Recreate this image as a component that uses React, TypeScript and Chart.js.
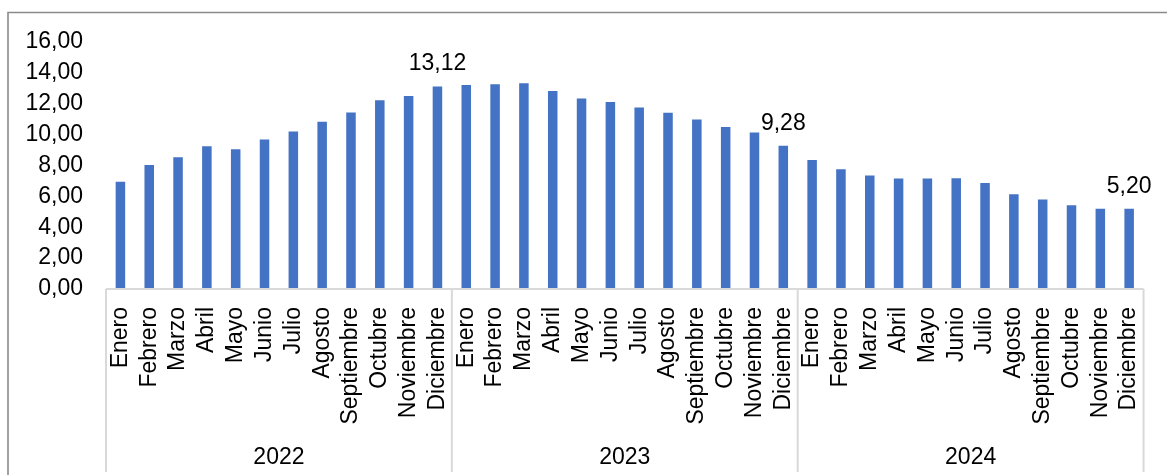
import React, { useEffect, useRef } from 'react';
import { Chart, registerables } from 'chart.js';

Chart.register(...registerables);

const months = ['Enero', 'Febrero', 'Marzo', 'Abril', 'Mayo', 'Junio', 'Julio', 'Agosto', 'Septiembre', 'Octubre', 'Noviembre', 'Diciembre'];
const years = ['2022', '2023', '2024'];
const values2022 = [6.94, 8.03, 8.54, 9.24, 9.06, 9.69, 10.21, 10.83, 11.44, 12.23, 12.51, 13.12];
const values2023 = [13.22, 13.27, 13.33, 12.82, 12.34, 12.12, 11.76, 11.41, 10.98, 10.49, 10.14, 9.28];
const values2024 = [8.35, 7.75, 7.36, 7.16, 7.16, 7.18, 6.86, 6.13, 5.8, 5.42, 5.2, 5.2];
const labelledMonths = ['Diciembre'];
const yMin = 0;
const yMax = 16;
const yStep = 2;

const FONT = "'Liberation Sans', Arial, sans-serif";
const fmt = (v: number) => v.toFixed(2).replace('.', ',');

export default function App() {
  const ref = useRef<HTMLCanvasElement | null>(null);

  useEffect(() => {
    const canvas = ref.current;
    if (!canvas) return;
    const labels: string[] = [];
    years.forEach(() => months.forEach((m) => labels.push(m)));
    const values = [...values2022, ...values2023, ...values2024];

    const overlay = {
      id: 'overlay',
      afterDraw(chart: any) {
        const ctx = chart.ctx as CanvasRenderingContext2D;
        const area = chart.chartArea;
        const xs = chart.scales.x;
        const n = labels.length;
        const boundary = (i: number) => {
          if (i <= 0) return area.left;
          if (i >= n) return area.right;
          return (xs.getPixelForTick(i - 1) + xs.getPixelForTick(i)) / 2;
        };
        ctx.save();
        // outer frame
        ctx.strokeStyle = '#8a8a8a';
        ctx.lineWidth = 1.6;
        ctx.beginPath();
        ctx.moveTo(8, 475);
        ctx.lineTo(8, 12.5);
        ctx.lineTo(1167, 12.5);
        ctx.stroke();
        // axis line
        ctx.strokeStyle = '#d9d9d9';
        ctx.lineWidth = 2;
        ctx.beginPath();
        ctx.moveTo(area.left, area.bottom);
        ctx.lineTo(area.right, area.bottom);
        ctx.stroke();
        // group separators and year labels
        ctx.fillStyle = '#000';
        ctx.font = `23px ${FONT}`;
        ctx.textAlign = 'center';
        ctx.textBaseline = 'middle';
        for (let g = 0; g <= years.length; g++) {
          const x = boundary(g * months.length);
          ctx.beginPath();
          ctx.moveTo(x, area.bottom);
          ctx.lineTo(x, 472);
          ctx.stroke();
          if (g < years.length) {
            const x2 = boundary((g + 1) * months.length);
            ctx.fillText(years[g], (x + x2) / 2, 458);
          }
        }
        // data labels
        const meta = chart.getDatasetMeta(0);
        ctx.textBaseline = 'alphabetic';
        meta.data.forEach((bar: any, i: number) => {
          if (labelledMonths.includes(labels[i])) {
            ctx.fillText(fmt(values[i]), bar.x, bar.y - 16);
          }
        });
        ctx.restore();
      },
    };

    const chart = new Chart(canvas, {
      type: 'bar',
      data: {
        labels,
        datasets: [
          {
            data: values,
            backgroundColor: '#4472C4',
            borderWidth: 0,
            categoryPercentage: 1,
            barPercentage: 0.33,
          },
        ],
      },
      options: {
        responsive: false,
        animation: false,
        layout: { padding: { top: 42, right: 18, left: 0, bottom: 0 } },
        plugins: { legend: { display: false }, tooltip: { enabled: false } },
        scales: {
          x: {
            grid: { display: false },
            border: { display: false },
            ticks: {
              autoSkip: false,
              minRotation: 90,
              maxRotation: 90,
              padding: 10,
              color: '#000',
              font: { family: FONT, size: 23 },
            },
            afterFit: (s: any) => {
              s.height = 186;
            },
          },
          y: {
            min: yMin,
            max: yMax,
            grid: { display: false },
            border: { display: false },
            ticks: {
              stepSize: yStep,
              padding: 15,
              color: '#000',
              font: { family: FONT, size: 23 },
              callback: (v: any) => fmt(Number(v)),
            },
            afterFit: (s: any) => {
              s.width = 106;
            },
          },
        },
      },
      plugins: [overlay],
    });
    return () => chart.destroy();
  }, []);

  return (
    <div style={{ position: 'fixed', left: 0, top: 0, width: 1167, height: 475, background: '#fff' }}>
      <canvas ref={ref} width={1167} height={475} style={{ display: 'block' }} />
    </div>
  );
}
